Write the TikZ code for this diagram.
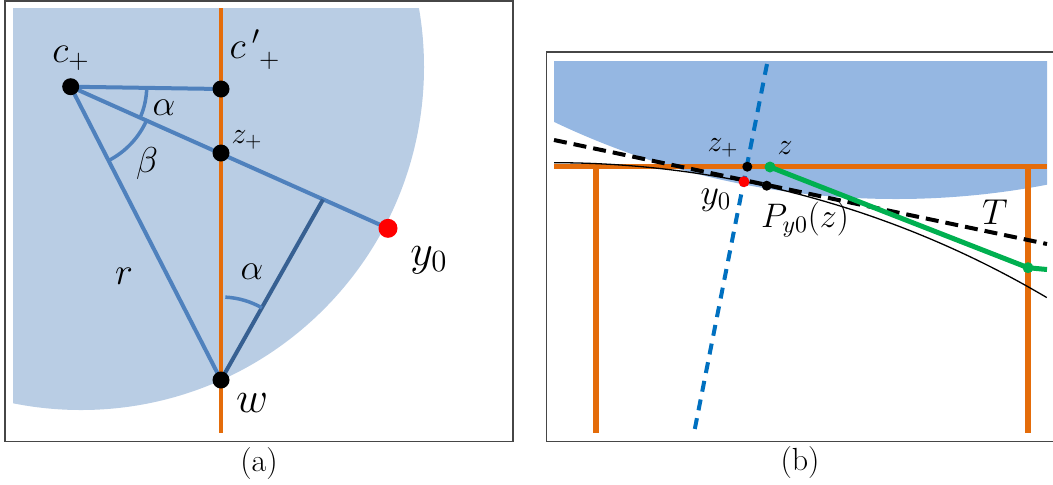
\RequirePackage{fix-cm}
\documentclass[tikz,border=0pt]{standalone}
\usepackage{tikz}
\usetikzlibrary{positioning, calc}

\definecolor{diskA}{RGB}{185,205,228}
\definecolor{diskB}{RGB}{149,183,226}
\definecolor{segblue}{RGB}{79,129,189}
\definecolor{segdark}{RGB}{55,96,146}
\definecolor{boxorange}{RGB}{228,108,10}
\definecolor{normblue}{RGB}{0,112,192}
\definecolor{pathgreen}{RGB}{0,176,80}
\definecolor{framegray}{RGB}{70,70,70}

\tikzset{
    panelframe/.style={draw=framegray, line width=0.75pt},
    blob/.style={circle, inner sep=0pt, minimum size=#1},
    lbl/.style={inner sep=0pt, font=\fontsize{#1}{#1}\selectfont},
    orangeline/.style={boxorange, line width=2pt},
    seg/.style={segblue, line width=2pt},
    angarc/.style={segblue, line width=1.75pt},
    bar/.style={boxorange, line width=2.75pt},
    tangent/.style={black, line width=2pt, dash pattern=on 6.5pt off 3.5pt},
    normdash/.style={normblue, line width=2pt, dash pattern=on 5.5pt off 4pt},
    gpath/.style={pathgreen, line width=2.5pt},
    bound/.style={black, line width=0.65pt}
}

\begin{document}
\begin{tikzpicture}[x=0.5pt, y=-0.5pt]
    \useasboundingbox (0,0) rectangle (1053,484);

    % ================= (a) =================
    \draw[panelframe] (5,1) rectangle (513,441.5);

    % Disc (clipped to the panel)
    \begin{scope}
        \clip (13,8) rectangle (506,433);
        \fill[diskA] (81,67) circle (343);
    \end{scope}

    % Points
    \coordinate (cp)   at (70.7,86.7);
    \coordinate (cpp)  at (221,89);
    \coordinate (zp)   at (221,153);
    \coordinate (w)    at (221,380);
    \coordinate (y0)   at (388,228.3);
    \coordinate (ft)   at (323,199.5);
    \coordinate (otop) at (220.5,8);
    \coordinate (obot) at (220.5,433);

    % Orange line
    \draw[orangeline] (otop) -- (obot);

    % Segments
    \draw[seg] (cp) -- (cpp);
    \draw[seg] (cp) -- (y0);
    \draw[seg] (cp) -- (w);
    \draw[seg, segdark] (w) -- (ft);

    % Angles
    \draw[angarc] (cp) ++(0.9:76) arc[start angle=0.9, end angle=24.05, radius=76];
    \draw[angarc] (cp) ++(24.05:83) arc[start angle=24.05, end angle=62.87, radius=83];
    \draw[angarc] (w) ++(-87:83) arc[start angle=-87, end angle=-60.5, radius=83];

    % Dots
    \node[blob=8.5pt, fill=black] (ncp)  at (cp)  {};
    \node[blob=8.5pt, fill=black] (ncpp) at (cpp) {};
    \node[blob=8.5pt, fill=black] (nzp)  at (zp)  {};
    \node[blob=8.5pt, fill=black] (nw)   at (w)   {};
    \node[blob=9.5pt, fill=red]   (ny0)  at (y0)  {};

    % Labels
    \node[lbl=19] (tcp)  at (71,58)   {$c_+$};
    \node[lbl=19] (tcpp) at (255,50)  {$c\,'_{\;+}$};
    \node[lbl=15] (tzp)  at (247,140) {$z_+$};
    \node[lbl=18] (ta1)  at (164,108) {$\alpha$};
    \node[lbl=18] (tb)   at (147,163) {$\beta$};
    \node[lbl=19] (tr)   at (124,276) {$r$};
    \node[lbl=18] (ta2)  at (252,272) {$\alpha$};
    \node[lbl=22] (tw)   at (252,403) {$w$};
    \node[lbl=22] (ty0)  at (429,260) {$y_0$};
    \node[lbl=16] (capa) at (259,463) {(a)};

    % ================= (b) =================
    \draw[panelframe] (1053,52) -| (546.5,441.5) -- (1053,441.5);

    % Disc (clipped to the panel)
    \begin{scope}
        \clip (554,61) rectangle (1047,433);
        \fill[diskB] (896,-596) circle (795);
    \end{scope}

    % Points
    \coordinate (bl)  at (554,166.7);
    \coordinate (br)  at (1047,166.7);
    \coordinate (l1t) at (596,166.7);
    \coordinate (l1b) at (596,433);
    \coordinate (l2t) at (1028,166.7);
    \coordinate (l2b) at (1028,433);
    \coordinate (ts)  at (554,140);
    \coordinate (te)  at (1047,244);
    \coordinate (ns)  at (767,64);
    \coordinate (ne)  at (694,433);
    \coordinate (bz)  at (747.3,166.7);
    \coordinate (by)  at (744,181.7);
    \coordinate (bp)  at (766.7,185.7);
    \coordinate (bzz) at (770,167);
    \coordinate (bg)  at (1028,267.7);
    \coordinate (bge) at (1047,269.5);

    % Box
    \draw[bar] (bl) -- (br);
    \draw[bar] (l1t) -- (l1b);
    \draw[bar] (l2t) -- (l2b);

    % Boundary curve and tangent T
    \draw[bound] (554,162.7) arc[start angle=-90, end angle=-59.4, radius=968];
    \draw[tangent] (ts) -- (te);

    % Normal line
    \draw[normdash] (ns) -- (ne);

    % Green path
    \draw[gpath] (bzz) -- (bg) -- (bge);

    % Dots
    \node[blob=5pt, fill=black]     (nbz)  at (bz)  {};
    \node[blob=5.5pt, fill=red]     (nby)  at (by)  {};
    \node[blob=5pt, fill=black]     (nbp)  at (bp)  {};
    \node[blob=5.5pt, fill=pathgreen] (nbzz) at (bzz) {};
    \node[blob=5.5pt, fill=pathgreen] (nbg)  at (bg)  {};

    % Labels
    \node[lbl=15] (tbz)  at (723,148) {$z_+$};
    \node[lbl=15] (tbzz) at (785,148) {$z$};
    \node[lbl=18] (tby)  at (716,200) {$y_0$};
    \node[lbl=17] (tbp)  at (805,220) {$P_{y0}(z)$};
    \node[lbl=18] (tT)   at (995,212) {$T$};
    \node[lbl=16] (capb) at (800,462) {(b)};
\end{tikzpicture}
\end{document}
